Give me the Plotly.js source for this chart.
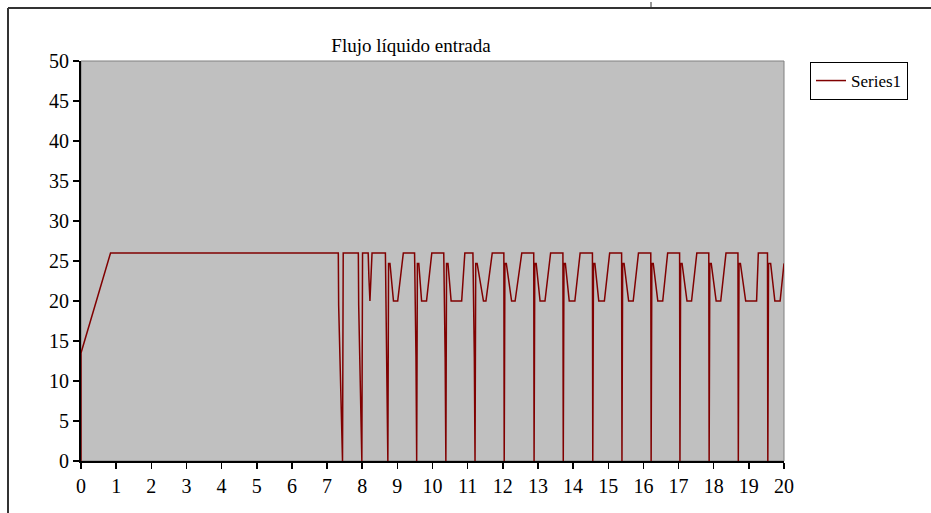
<!DOCTYPE html>
<html>
<head>
<meta charset="utf-8">
<script src="https://cdn.plot.ly/plotly-3.0.1.min.js"></script>
<style>html,body{margin:0;padding:0;background:#fff;}#chart{width:931px;height:513px;}</style>
</head>
<body>
<div id="chart"></div>
<script>
// Time axis (x) and flow values (y)
const timeValues = [
  0, 0, 0.84, 7.32, 7.33, 7.41, 7.44, 7.46,
  7.89, 7.90, 7.96, 7.99, 8.01,
  8.17, 8.19, 8.22, 8.25, 8.28, 8.66, 8.70, 8.73,
  8.75, 8.79, 8.89, 9.01, 9.17, 9.49, 9.53, 9.55,
  9.57, 9.61, 9.69, 9.83, 9.98, 10.32, 10.36, 10.38,
  10.40, 10.44, 10.53, 10.83, 10.92, 11.15, 11.19, 11.21,
  11.23, 11.27, 11.45, 11.52, 11.70, 12.03, 12.04,
  12.06, 12.10, 12.25, 12.35, 12.54, 12.88, 12.89,
  12.91, 12.95, 13.06, 13.20, 13.36, 13.71, 13.72,
  13.74, 13.78, 13.89, 14.05, 14.20, 14.55, 14.56,
  14.58, 14.62, 14.73, 14.89, 15.04, 15.38, 15.39,
  15.41, 15.45, 15.58, 15.71, 15.86, 16.21, 16.22,
  16.24, 16.28, 16.41, 16.55, 16.69, 17.03, 17.04,
  17.06, 17.10, 17.24, 17.37, 17.52, 17.86, 17.87,
  17.89, 17.93, 18.07, 18.20, 18.35, 18.69, 18.70,
  18.72, 18.76, 18.91, 19.22, 19.27, 19.53, 19.54,
  19.56, 19.62, 19.74, 19.89, 20.0
];
const flowValues = [
  0, 13.5, 26, 26, 19.5, 6.5, 0, 26,
  26, 19.5, 6.5, 0, 26,
  26, 23, 20, 23, 26, 26, 13, 0,
  24.7, 24.7, 20, 20, 26, 26, 13, 0,
  24.7, 24.7, 20, 20, 26, 26, 13, 0,
  24.7, 24.7, 20, 20, 26, 26, 13, 0,
  24.7, 24.7, 20, 20, 26, 26, 0,
  24.7, 24.7, 20, 20, 26, 26, 0,
  24.7, 24.7, 20, 20, 26, 26, 0,
  24.7, 24.7, 20, 20, 26, 26, 0,
  24.7, 24.7, 20, 20, 26, 26, 0,
  24.7, 24.7, 20, 20, 26, 26, 0,
  24.7, 24.7, 20, 20, 26, 26, 0,
  24.7, 24.7, 20, 20, 26, 26, 0,
  24.7, 24.7, 20, 20, 26, 26, 0,
  24.7, 24.7, 20, 20, 26, 26, 0,
  24.7, 24.7, 20, 20, 24.7
];
const seriesName = "Series1";
const chartTitle = "Flujo líquido entrada";
const xTickValues = [0,1,2,3,4,5,6,7,8,9,10,11,12,13,14,15,16,17,18,19,20];
const yTickValues = [0,5,10,15,20,25,30,35,40,45,50];

const FONT = "Liberation Serif, Times New Roman, serif";

const trace = {
  x: timeValues,
  y: flowValues,
  type: 'scatter',
  mode: 'lines',
  name: seriesName,
  line: {color: '#800000', width: 1.5},
  showlegend: true
};

const layout = {
  width: 931,
  height: 513,
  margin: {l: 81, r: 147, t: 61, b: 52},
  paper_bgcolor: '#ffffff',
  plot_bgcolor: '#c0c0c0',
  font: {family: FONT, size: 19, color: '#000'},
  title: {
    text: chartTitle,
    font: {family: FONT, size: 19, color: '#000'},
    x: (411 - 81) / 703, xref: 'paper', xanchor: 'center',
    y: 1 - 45 / 513, yref: 'container', yanchor: 'middle'
  },
  xaxis: {
    range: [0, 20],
    tickvals: xTickValues,
    ticktext: xTickValues.map(String),
    ticks: 'outside', ticklen: 6, tickwidth: 1.5, tickcolor: '#000',
    showline: true, linecolor: '#000', linewidth: 2,
    showgrid: false, zeroline: false,
    tickfont: {family: FONT, size: 20, color: '#000'}
  },
  yaxis: {
    range: [0, 50],
    tickvals: yTickValues,
    ticktext: yTickValues.map(String),
    ticks: 'outside', ticklen: 6, tickwidth: 1.5, tickcolor: '#000',
    showline: true, linecolor: '#000', linewidth: 2,
    showgrid: false, zeroline: false,
    tickfont: {family: FONT, size: 20, color: '#000'}
  },
  legend: {
    x: (810 - 81) / 703, xanchor: 'left',
    y: 1 - 1 / 400, yanchor: 'top',
    bgcolor: '#ffffff', bordercolor: '#000', borderwidth: 1,
    font: {family: FONT, size: 17, color: '#000'},
    itemwidth: 30
  },
  shapes: [
    {type: 'rect', xref: 'paper', yref: 'paper', x0: 0, x1: 1, y0: 0, y1: 1,
     line: {color: '#808080', width: 1}, layer: 'below'},
    {type: 'line', xref: 'paper', yref: 'paper',
     x0: (8 - 81) / 703, x1: (931 - 81) / 703, y0: (461 - 8) / 400, y1: (461 - 8) / 400,
     line: {color: '#333', width: 2}},
    {type: 'line', xref: 'paper', yref: 'paper',
     x0: (8 - 81) / 703, x1: (8 - 81) / 703, y0: (461 - 8) / 400, y1: (461 - 513) / 400,
     line: {color: '#333', width: 2}},
    {type: 'line', xref: 'paper', yref: 'paper',
     x0: (651 - 81) / 703, x1: (651 - 81) / 703, y0: (461 - 2) / 400, y1: (461 - 8) / 400,
     line: {color: '#333', width: 1}}
  ]
};

Plotly.newPlot('chart', [trace], layout, {displayModeBar: false, staticPlot: true});
</script>
</body>
</html>
